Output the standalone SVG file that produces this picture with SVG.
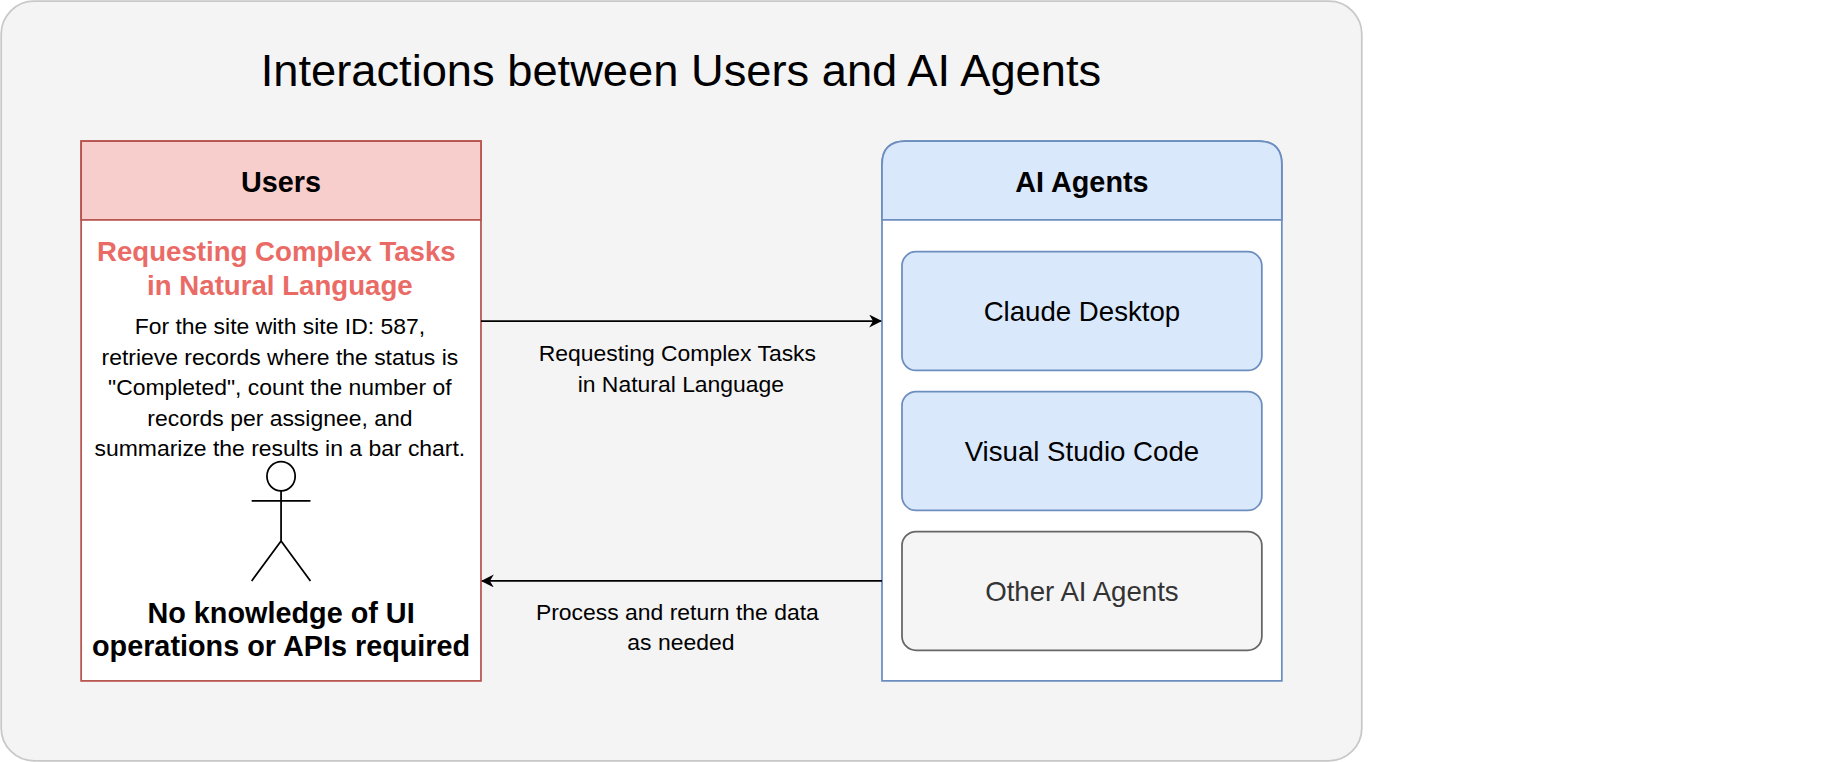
<svg xmlns="http://www.w3.org/2000/svg" width="1842" height="762" viewBox="0 0 1842 762">
<defs>
<marker id="ah" viewBox="0 0 10 10" refX="9" refY="5" markerWidth="11" markerHeight="11" orient="auto" markerUnits="userSpaceOnUse"><path d="M0,0 L10,5 L0,10 L3,5 Z" fill="#000"/></marker>
<style>
text{font-family:"Liberation Sans",Arial,sans-serif;text-anchor:middle}
.b{font-size:19.5px;fill:#000}
.h{font-size:24.5px;font-weight:bold}
.n{font-size:23.5px}
</style>
</defs>
<rect width="1842" height="762" fill="#fff"/>
<g transform="scale(1.176)">
<rect x="1" y="1" width="1157" height="646" rx="28" fill="#f4f4f4" stroke="#c8c8c8" stroke-width="1.5"/>
<text x="579" y="73" style="font-size:38.5px">Interactions between Users and AI Agents</text>
<g id="users">
<rect x="69" y="120" width="340" height="459" fill="#fff" stroke="#b85450" stroke-width="1.5"/>
<rect x="69" y="120" width="340" height="67" fill="#f8cecc" stroke="#b85450" stroke-width="1.5"/>
<text class="h" x="239" y="163">Users</text>
<text x="235" y="222" style="font-size:23.5px;font-weight:bold;fill:#ea6b66">Requesting Complex Tasks</text>
<text x="238" y="251" style="font-size:23.5px;font-weight:bold;fill:#ea6b66">in Natural Language</text>
<text class="b" x="238" y="284">For the site with site ID: 587,</text>
<text class="b" x="238" y="310">retrieve records where the status is</text>
<text class="b" x="238" y="336">"Completed", count the number of</text>
<text class="b" x="238" y="362">records per assignee, and</text>
<text class="b" x="238" y="388">summarize the results in a bar chart.</text>
<g fill="none" stroke="#000" stroke-width="1.5">
<ellipse cx="239" cy="405" rx="12" ry="12.5"/>
<path d="M239,417.5 V460 M214,426 H264 M239,460 L214,494 M239,460 L264,494"/>
</g>
<text class="h" x="239" y="530">No knowledge of UI</text>
<text class="h" x="239" y="558">operations or APIs required</text>
</g>
<g id="agents">
<path d="M750,579 V140 Q750,120 770,120 H1070 Q1090,120 1090,140 V579 Z" fill="#fff" stroke="#6c8ebf" stroke-width="1.5"/>
<path d="M750,187 V140 Q750,120 770,120 H1070 Q1090,120 1090,140 V187 Z" fill="#dae8fc" stroke="#6c8ebf" stroke-width="1.5"/>
<text class="h" x="920" y="163">AI Agents</text>
</g>
<g id="claude"><rect x="767" y="214" width="306" height="101" rx="12" fill="#dae8fc" stroke="#6c8ebf" stroke-width="1.5"/><text class="n" x="920" y="273">Claude Desktop</text></g>
<g id="vscode"><rect x="767" y="333" width="306" height="101" rx="12" fill="#dae8fc" stroke="#6c8ebf" stroke-width="1.5"/><text class="n" x="920" y="392">Visual Studio Code</text></g>
<g id="other"><rect x="767" y="452" width="306" height="101" rx="12" fill="#f5f5f5" stroke="#666" stroke-width="1.5"/><text class="n" x="920" y="511" fill="#333">Other AI Agents</text></g>
<g id="connectors" stroke="#000" stroke-width="1.5" fill="none">
<line x1="409" y1="273" x2="749" y2="273" marker-end="url(#ah)"/>
<line x1="750" y1="494" x2="410" y2="494" marker-end="url(#ah)"/>
</g>
<text class="b" x="576" y="307">Requesting Complex Tasks</text>
<text class="b" x="579" y="333">in Natural Language</text>
<text class="b" x="576" y="527">Process and return the data</text>
<text class="b" x="579" y="553">as needed</text>
</g>
</svg>
